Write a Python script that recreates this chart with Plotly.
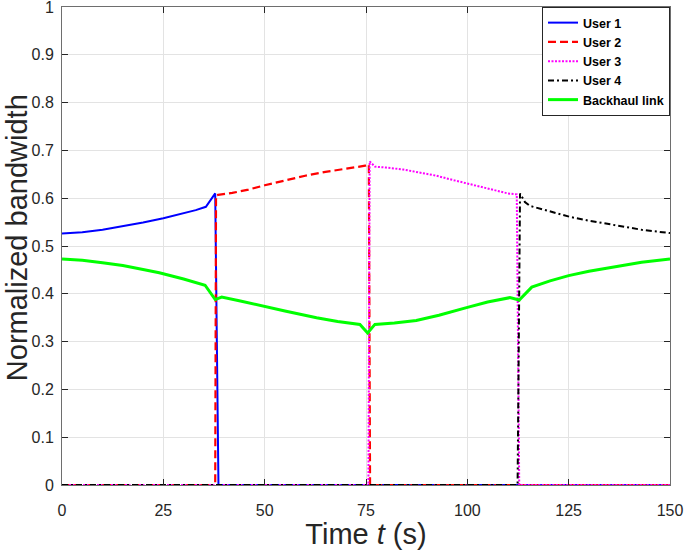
import plotly.graph_objects as go

# ---- data ----
u1_t = [0, 5, 10, 15, 20, 25, 30, 33, 35.5, 37.8, 38.2, 38.6, 40, 60, 80, 100, 120, 150]
u1_y = [0.526, 0.529, 0.534, 0.541, 0.549, 0.558, 0.568, 0.575, 0.582, 0.610, 0.30, 0.0, 0, 0, 0, 0, 0, 0]

u2_t = [0, 20, 37.8, 38.0, 38.5, 42, 46, 50, 55, 60, 65, 70, 74.8, 75.7, 76.0, 80, 100, 120, 150]
u2_y = [0, 0, 0.0, 0.606, 0.607, 0.611, 0.618, 0.627, 0.637, 0.647, 0.655, 0.662, 0.668, 0.671, 0.0, 0, 0, 0, 0]

u3_t = [0, 20, 40, 60, 75.6, 75.9, 77.2, 80, 84.2, 88, 92.4, 96, 99.8, 104, 108, 110, 112.2, 112.8, 120, 150]
u3_y = [0, 0, 0, 0, 0.0, 0.677, 0.666, 0.664, 0.660, 0.654, 0.647, 0.639, 0.631, 0.621, 0.613, 0.610, 0.608, 0.0, 0, 0]

u4_t = [0, 20, 40, 60, 80, 100, 112.4, 113.0, 114.2, 115.4, 120, 125.3, 130, 137.6, 143, 150]
u4_y = [0, 0, 0, 0, 0, 0, 0.0, 0.610, 0.592, 0.584, 0.573, 0.561, 0.553, 0.542, 0.534, 0.527]

bh_t = [0, 5, 10, 15, 20, 24, 30, 35.3, 37.8, 39.4, 44, 49.6, 55, 62.8, 68, 73.5, 75.4,
        77.2, 82, 87.4, 93, 99.8, 105, 110.5, 112.8, 115.9, 120.4, 125, 130, 137.6, 143, 150]
bh_y = [0.473, 0.470, 0.465, 0.459, 0.451, 0.444, 0.431, 0.418, 0.388, 0.393, 0.385, 0.374,
        0.364, 0.350, 0.342, 0.336, 0.318, 0.336, 0.339, 0.344, 0.355, 0.371, 0.383, 0.392,
        0.387, 0.414, 0.427, 0.438, 0.447, 0.458, 0.466, 0.473]

x_ticks = [0, 25, 50, 75, 100, 125, 150]
y_ticks = [0, 0.1, 0.2, 0.3, 0.4, 0.5, 0.6, 0.7, 0.8, 0.9, 1]
y_tick_text = ["0", "0.1", "0.2", "0.3", "0.4", "0.5", "0.6", "0.7", "0.8", "0.9", "1"]

FONT = "Liberation Sans, Arial, sans-serif"

fig = go.Figure()
fig.add_trace(go.Scatter(x=u1_t, y=u1_y, mode="lines", name="User 1",
                         line=dict(color="#0000ff", width=2, dash="solid")))
fig.add_trace(go.Scatter(x=u2_t, y=u2_y, mode="lines", name="User 2",
                         line=dict(color="#ff0000", width=2.2, dash="8px,4px")))
fig.add_trace(go.Scatter(x=u3_t, y=u3_y, mode="lines", name="User 3",
                         line=dict(color="#ff00ff", width=2, dash="2px,1.5px")))
fig.add_trace(go.Scatter(x=u4_t, y=u4_y, mode="lines", name="User 4",
                         line=dict(color="#000000", width=2, dash="6px,3px,2px,3px")))
fig.add_trace(go.Scatter(x=bh_t, y=bh_y, mode="lines", name="Backhaul link",
                         line=dict(color="#00ff00", width=3, dash="solid")))

axis_common = dict(
    showline=True, linecolor="#6e6e6e", linewidth=1, mirror="ticks",
    ticks="inside", ticklen=6, tickcolor="#262626",
    showgrid=True, gridcolor="#e3e3e3", gridwidth=1,
    zeroline=False, automargin=False, ticklabeloverflow="allow",
    tickfont=dict(family=FONT, size=16, color="#262626"),
)

fig.update_layout(
    width=685, height=550,
    margin=dict(l=62, r=15, t=7, b=65),
    paper_bgcolor="white", plot_bgcolor="white",
    font=dict(family=FONT, color="#262626"),
    showlegend=True,
    legend=dict(
        x=1, y=1, xanchor="right", yanchor="top",
        bgcolor="white", bordercolor="#262626", borderwidth=1,
        font=dict(family=FONT, size=12.5, color="#000000", weight="bold"),
        tracegroupgap=0, itemwidth=30,
    ),
    xaxis=dict(
        range=[0, 150], tickvals=x_ticks, ticklabelstandoff=11,
        title=dict(text="Time <i>t</i> (s)", font=dict(family=FONT, size=29, color="#262626"), standoff=0),
        **axis_common,
    ),
    yaxis=dict(
        range=[0, 1], tickvals=y_ticks, ticktext=y_tick_text, ticklabelstandoff=4,
        **axis_common,
    ),
    annotations=[dict(
        text="Normalized bandwidth", textangle=-90, showarrow=False,
        xref="paper", yref="paper", x=-0.1015, y=0.517,
        xanchor="left", yanchor="middle", borderpad=0,
        font=dict(family=FONT, size=29, color="#262626"),
    )],
)

fig.write_html("out.html", config={"displayModeBar": False},
               post_script="document.body.style.margin='0px';")
